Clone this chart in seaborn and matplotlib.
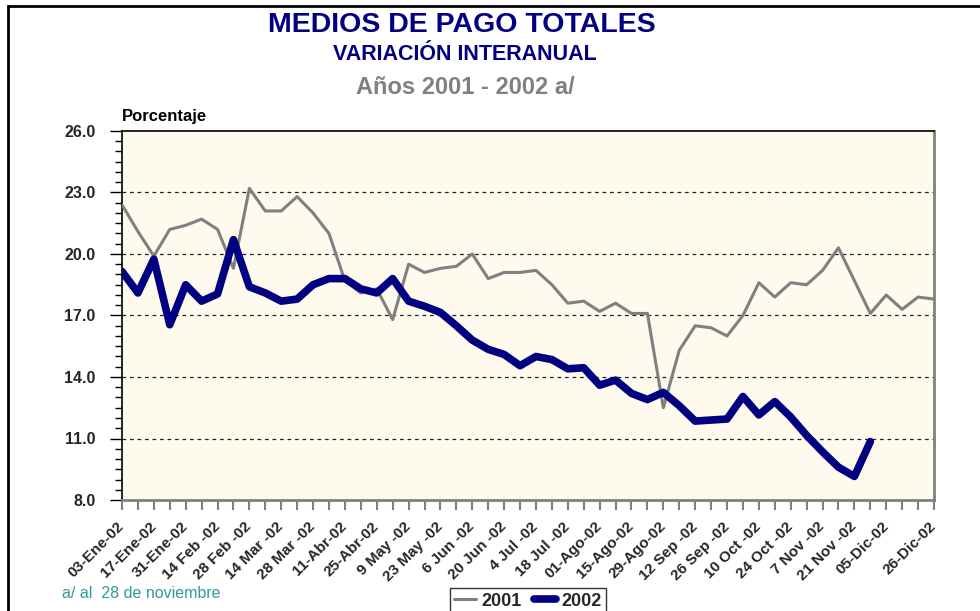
import numpy as np
import pandas as pd
import seaborn as sns
import matplotlib
matplotlib.use('Agg')
import matplotlib.pyplot as plt
from matplotlib.patches import Rectangle
from matplotlib.ticker import FixedLocator, FormatStrFormatter

# Etiquetas semanales (solo se rotulan semanas alternas y la ultima)
tick_labels = ['03-Ene-02', '', '17-Ene-02', '', '31-Ene-02', '', '14 Feb -02', '',
               '28 Feb -02', '', '14 Mar -02', '', '28 Mar -02', '', '11-Abr-02', '',
               '25-Abr-02', '', '9 May -02', '', '23 May -02', '', '6 Jun -02', '',
               '20 Jun -02', '', '4 Jul -02', '', '18 Jul -02', '', '01-Ago-02', '',
               '15-Ago-02', '', '29-Ago-02', '', '12 Sep -02', '', '26 Sep -02', '',
               '10 Oct -02', '', '24 Oct -02', '', '7 Nov -02', '', '21 Nov -02', '',
               '05-Dic-02', '', '', '26-Dic-02']

# Variacion interanual (%)
y2001 = [22.4, 21.1, 19.9, 21.2, 21.4, 21.7, 21.2, 19.3, 23.2, 22.1,
         22.1, 22.8, 22.0, 21.0, 18.7, 18.1, 18.3, 16.8, 19.5, 19.1,
         19.3, 19.4, 20.0, 18.8, 19.1, 19.1, 19.2, 18.5, 17.6, 17.7,
         17.2, 17.6, 17.1, 17.1, 12.5, 15.3, 16.5, 16.4, 16.0, 17.0,
         18.6, 17.9, 18.6, 18.5, 19.2, 20.3, 18.7, 17.1, 18.0, 17.3,
         17.9, 17.8]
y2002 = [19.15, 18.1, 19.75, 16.55, 18.5, 17.7, 18.05, 20.7, 18.4, 18.1,
         17.7, 17.8, 18.5, 18.8, 18.8, 18.3, 18.1, 18.8, 17.7, 17.45,
         17.15, 16.5, 15.8, 15.35, 15.1, 14.55, 15.0, 14.85, 14.4, 14.45,
         13.6, 13.85, 13.2, 12.9, 13.25, 12.6, 11.85, 11.9, 11.95, 13.05,
         12.15, 12.8, 12.05, 11.15, 10.35, 9.6, 9.15, 10.85]

df01 = pd.DataFrame({'semana': np.arange(len(y2001)), 'valor': y2001})
df02 = pd.DataFrame({'semana': np.arange(len(y2002)), 'valor': y2002})

sns.set_style('white')
plt.rcParams['font.family'] = ['Liberation Sans', 'DejaVu Sans']

NAVY = '#000080'
GRIS = '#808080'

fig = plt.figure(figsize=(9.8, 6.11), dpi=100)
ax = fig.add_axes([122/980, 1 - 500/611, (934 - 122)/980, (500 - 131)/611])
ax.set_facecolor('#fffaee')

for y in [11, 14, 17, 20, 23]:
    ax.axhline(y, color='#222222', lw=0.9, ls=(0, (3, 3)), zorder=1)

sns.lineplot(data=df01, x='semana', y='valor', ax=ax, color=GRIS, lw=2.2,
             label='2001', zorder=3)
sns.lineplot(data=df02, x='semana', y='valor', ax=ax, color=NAVY, lw=5.5,
             label='2002', zorder=4, solid_joinstyle='round')

ax.set_xlim(0, len(y2001) - 1)
ax.set_ylim(8, 26)
ax.yaxis.set_major_locator(FixedLocator(np.arange(8, 26.1, 3)))
ax.yaxis.set_minor_locator(FixedLocator(np.arange(8, 26.1, 0.5)))
ax.yaxis.set_major_formatter(FormatStrFormatter('%.1f'))
ax.set_xticks(np.arange(len(tick_labels)))
ax.set_xticklabels(tick_labels, rotation=45, ha='right', va='center',
                   rotation_mode='anchor', fontsize=11, fontweight='bold')
for lab in ax.get_yticklabels():
    lab.set_fontweight('bold')
    lab.set_fontsize(11.5)
ax.set_xlabel('')
ax.set_ylabel('')

ax.tick_params(axis='y', which='major', direction='out', length=9, width=1,
               color='black', left=True, pad=10)
ax.tick_params(axis='y', which='minor', direction='out', length=5, width=1,
               color='black', left=True)
ax.tick_params(axis='x', which='major', direction='out', length=7.5, width=1.5,
               color=GRIS, bottom=True, pad=10)

ax.spines['left'].set_color('black')
ax.spines['left'].set_linewidth(1.2)
ax.spines['top'].set_color('black')
ax.spines['top'].set_linewidth(1.2)
ax.spines['right'].set_color(GRIS)
ax.spines['right'].set_linewidth(2)
ax.spines['bottom'].set_color(GRIS)
ax.spines['bottom'].set_linewidth(2)

handles, labels = ax.get_legend_handles_labels()
ax.get_legend().remove()
leg = fig.legend(handles, labels, loc='upper center',
                 bbox_to_anchor=(528/980, 1 - 588/611), ncol=2,
                 frameon=True, fancybox=False, edgecolor='black',
                 handlelength=1.2, handletextpad=0.3, columnspacing=0.7,
                 borderpad=0.25, borderaxespad=0,
                 prop={'weight': 'bold', 'size': 13})
leg.get_frame().set_linewidth(1)

# Titulos
fig.text(462/980, 1 - 25/611, 'MEDIOS DE PAGO TOTALES', ha='center', va='center',
         fontsize=20.5, fontweight='bold', color=NAVY)
fig.text(465/980, 1 - 55/611, 'VARIACIÓN INTERANUAL', ha='center', va='center',
         fontsize=15.5, fontweight='bold', color=NAVY)
fig.text(465/980, 1 - 88/611, 'Años 2001 - 2002 a/', ha='center', va='center',
         fontsize=17, fontweight='bold', color=GRIS)
fig.text(122/980, 1 - 116/611, 'Porcentaje', ha='left', va='center',
         fontsize=12, fontweight='bold', color='black')
fig.text(62/980, 1 - 594/611, 'a/ al  28 de noviembre', ha='left', va='center',
         fontsize=11.5, color='#339999')

# marco exterior
fig.patches.append(Rectangle((8/980, -0.1), 1.2, 1 - 6/611 + 0.1,
                             transform=fig.transFigure, fill=False,
                             edgecolor='black', lw=2, zorder=0))

fig.savefig('out.png', dpi=100)
